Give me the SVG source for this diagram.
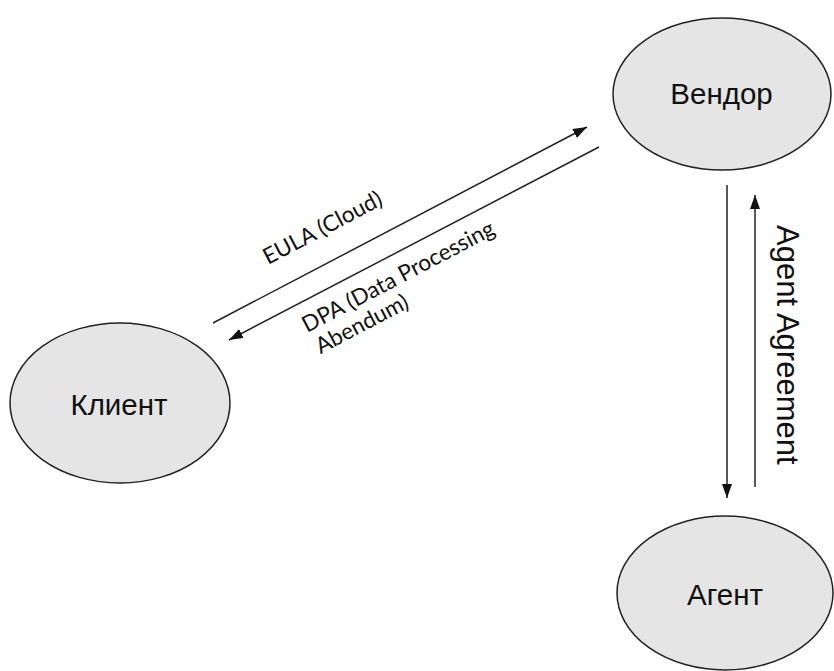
<svg xmlns="http://www.w3.org/2000/svg" width="834" height="671" viewBox="0 0 834 671">
<style>
.node{fill:#e5e5e5;stroke:#222;stroke-width:1.5}
.lbl{font-family:"Liberation Sans",Arial,sans-serif;font-size:29.5px;fill:#111;text-anchor:middle}
.edge{stroke:#222;stroke-width:1.5;fill:none}
.elbl{font-family:Lato,"Open Sans",sans-serif;font-size:22.5px;fill:#111}
.vlbl{font-family:"Liberation Sans",Arial,sans-serif;font-size:31px;fill:#111}
</style>
<defs>
<marker id="ah" viewBox="0 0 14 10" refX="14" refY="5" markerWidth="14" markerHeight="10" markerUnits="userSpaceOnUse" orient="auto">
<path d="M0,0 L14,5 L0,10 Z" fill="#111"/>
</marker>
</defs>
<rect width="834" height="671" fill="#fff"/>
<g id="vendor"><ellipse class="node" cx="722" cy="94" rx="109" ry="76"/><text class="lbl" x="721.5" y="103.5">Вендор</text></g>
<g id="client"><ellipse class="node" cx="120" cy="403" rx="110" ry="80"/><text class="lbl" x="119" y="415">Клиент</text></g>
<g id="agent"><ellipse class="node" cx="725" cy="593" rx="108" ry="77"/><text class="lbl" x="725" y="605">Агент</text></g>
<g id="connectors">
<line class="edge" x1="213" y1="323" x2="587" y2="127" marker-end="url(#ah)"/>
<line class="edge" x1="599" y1="147" x2="229" y2="340" marker-end="url(#ah)"/>
<line class="edge" x1="727" y1="185" x2="727" y2="498" marker-end="url(#ah)"/>
<line class="edge" x1="755" y1="487" x2="755" y2="195" marker-end="url(#ah)"/>
<text class="elbl" transform="translate(268,265) rotate(-27.7)">EULA (Cloud)</text>
<text class="elbl" transform="translate(307,333) rotate(-27.7)">DPA (Data Processing<tspan x="2" y="25">Abendum)</tspan></text>
<text class="vlbl" transform="translate(777,225) rotate(90)">Agent Agreement</text>
</g>
</svg>
